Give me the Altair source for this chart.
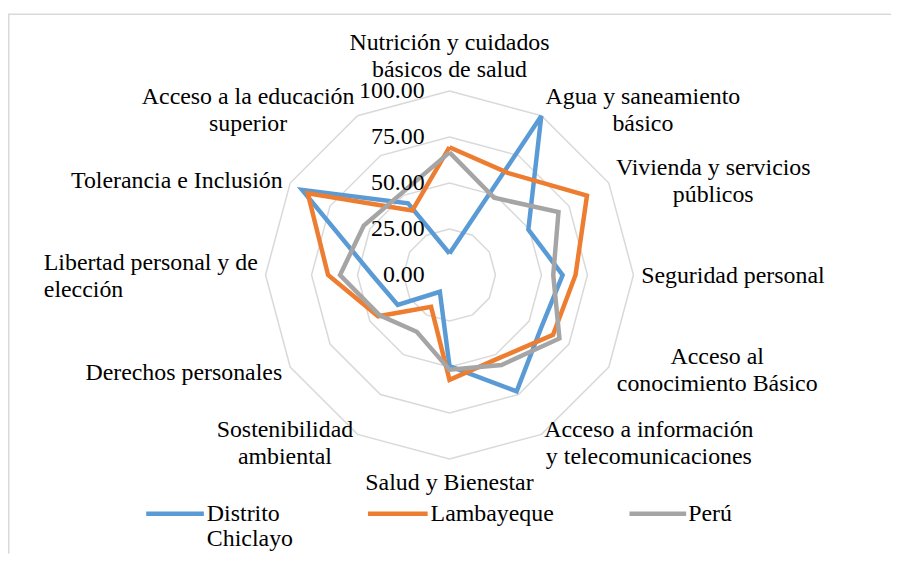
import altair as alt
import pandas as pd

# ---------------- data ----------------
CATEGORIES = [
    "Nutrición y cuidados\nbásicos de salud",
    "Agua y saneamiento\nbásico",
    "Vivienda y servicios\npúblicos",
    "Seguridad personal",
    "Acceso al\nconocimiento Básico",
    "Acceso a información\ny telecomunicaciones",
    "Salud y Bienestar",
    "Sostenibilidad\nambiental",
    "Derechos personales",
    "Libertad personal y de\nelección",
    "Tolerancia e Inclusión",
    "Acceso a la educación\nsuperior",
]
SERIES = ["Distrito Chiclayo", "Lambayeque", "Perú"]
DISTRITO_CHICLAYO = [11.7, 99.8, 49.5, 61.5, 57.5, 73.0, 49.5, 10.5, 32.5, 42.0, 92.5, 45.0]
LAMBAYEQUE = [69.5, 64.0, 86.3, 68.5, 65.0, 52.5, 57.0, 20.0, 44.8, 66.0, 89.0, 40.5]
PERU = [66.7, 48.5, 68.4, 56.4, 69.0, 56.5, 51.5, 35.6, 43.8, 59.5, 53.8, 51.6]
TICKS = [0, 25, 50, 75, 100]
TICK_LABELS = ["0.00", "25.00", "50.00", "75.00", "100.00"]

# ---------------- styles / layout ----------------
COLORS = ["#5B9BD5", "#ED7D31", "#A5A5A5"]
GRID_COLOR = "#D9D9D9"
FONT = "'Liberation Serif', 'Times New Roman', Tinos, 'DejaVu Serif', serif"
FS = 24
LH = 27
W, H = 888, 547
# label offsets (align, dx, dy) relative to the 100-level point of each axis
LABEL_LAYOUT = [
    ("center", 0, -60),
    ("center", 102, -31),
    ("center", 105, -27),
    ("center", 100, -11),
    ("center", 109, -22),
    ("center", 108, -16),
    ("center", 0, 12),
    ("center", -73, -16),
    ("center", -107, -6),
    ("left", -223, -24),
    ("center", -114, -14),
    ("center", -110, -31),
]
LEGEND_LINE_X = [(139, 197), (362, 422), (625, 682)]
LEGEND_TEXT_X = [200, 425, 684]
LEGEND_Y = 507

N = len(CATEGORIES)
rows = []
for name, vals in zip(SERIES, [DISTRITO_CHICLAYO, LAMBAYEQUE, PERU]):
    for i in range(N + 1):
        rows.append({"serie": name, "idx": i, "valor": vals[i % N]})
series_df = pd.DataFrame(rows)

grid_df = pd.DataFrame(
    [{"nivel": lv, "idx": i} for lv in TICKS if lv > 0 for i in range(N + 1)]
)
tick_df = pd.DataFrame({"nivel": TICKS, "texto": TICK_LABELS})
cat_df = pd.DataFrame({"idx": list(range(N)), "cat": CATEGORIES})
one_df = pd.DataFrame({"k": [0]})

XS = alt.Scale(domain=[-240, 240])
YS = alt.Scale(domain=[-(H - 267) / 1.85, 267 / 1.85])
ANG = f"datum.idx * 2 * PI / {N}"

frame_left = alt.Chart(one_df).mark_rule(color=GRID_COLOR, strokeWidth=1.5).encode(
    x=alt.value(0.75), y=alt.value(4.75), y2=alt.value(H)
)
frame_top = alt.Chart(one_df).mark_rule(color=GRID_COLOR, strokeWidth=1.5).encode(
    x=alt.value(0), x2=alt.value(W), y=alt.value(4.75)
)

grid = alt.Chart(grid_df).transform_calculate(
    gx=f"datum.nivel * sin({ANG})", gy=f"datum.nivel * cos({ANG})"
).mark_line(color=GRID_COLOR, strokeWidth=1.5).encode(
    x=alt.X("gx:Q", scale=XS, axis=None),
    y=alt.Y("gy:Q", scale=YS, axis=None),
    detail="nivel:N",
    order="idx:Q",
)

lines = alt.Chart(series_df).transform_calculate(
    px=f"datum.valor * sin({ANG})", py=f"datum.valor * cos({ANG})"
).mark_line(strokeWidth=4.5, strokeJoin="miter").encode(
    x=alt.X("px:Q", scale=XS, axis=None),
    y=alt.Y("py:Q", scale=YS, axis=None),
    color=alt.Color("serie:N", scale=alt.Scale(domain=SERIES, range=COLORS), legend=None),
    detail="serie:N",
    order="idx:Q",
)

ticks = alt.Chart(tick_df).transform_calculate(
    tx="0", ty="datum.nivel"
).mark_text(align="right", baseline="middle", dx=-25, font=FONT, fontSize=FS, color="#000000").encode(
    x=alt.X("tx:Q", scale=XS, axis=None),
    y=alt.Y("ty:Q", scale=YS, axis=None),
    text="texto:N",
)

label_layers = []
for i, (al, dx, dy) in enumerate(LABEL_LAYOUT):
    label_layers.append(
        alt.Chart(cat_df)
        .transform_filter(f"datum.idx == {i}")
        .transform_calculate(lx=f"100 * sin({ANG})", ly=f"100 * cos({ANG})")
        .mark_text(align=al, baseline="top", dx=dx, dy=dy, font=FONT, fontSize=FS,
                   lineHeight=LH, lineBreak="\n", color="#000000")
        .encode(
            x=alt.X("lx:Q", scale=XS, axis=None),
            y=alt.Y("ly:Q", scale=YS, axis=None),
            text="cat:N",
        )
    )

legend_layers = []
for name, col, (x1, x2), tx in zip(SERIES, COLORS, LEGEND_LINE_X, LEGEND_TEXT_X):
    legend_layers.append(
        alt.Chart(one_df).mark_rule(color=col, strokeWidth=4.5).encode(
            x=alt.value(x1), x2=alt.value(x2), y=alt.value(LEGEND_Y)
        )
    )
    legend_layers.append(
        alt.Chart(one_df).mark_text(align="left", baseline="top", font=FONT, fontSize=FS,
                                    lineHeight=LH - 1, lineBreak=" ", color="#000000").encode(
            x=alt.value(tx), y=alt.value(LEGEND_Y - 12), text=alt.value(name)
        )
    )

chart = alt.layer(
    frame_left, frame_top, grid, lines, ticks, *label_layers, *legend_layers
).properties(
    width=W, height=H, autosize=alt.AutoSizeParams(type="none"), padding=0,
    background="#FFFFFF",
).configure_view(stroke=None)

chart.save("out.html", embed_options={"renderer": "svg", "actions": False})
